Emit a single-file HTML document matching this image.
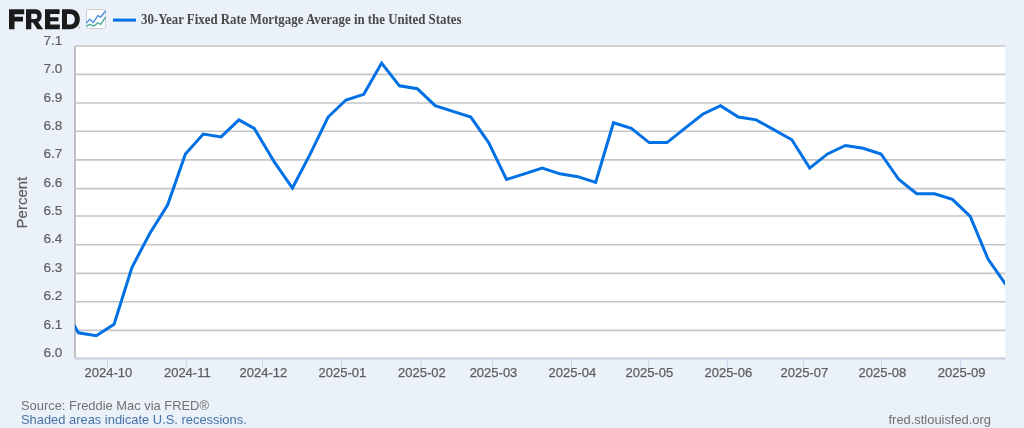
<!DOCTYPE html>
<html><head><meta charset="utf-8">
<style>
html,body{margin:0;padding:0;width:1024px;height:428px;overflow:hidden;background:#eaf1f9;}
svg{display:block;will-change:transform;}
text{font-family:"Liberation Sans",sans-serif;}
</style></head><body>
<svg width="1024" height="428" viewBox="0 0 1024 428">
<rect x="0" y="0" width="1024" height="428" fill="#eaf1f9"/>
<!-- logo -->
<g fill="#1b1b1b" fill-rule="evenodd">
<path d="M9,9.3 H24.2 V14.2 H14.5 V16.7 H23 V21.5 H14.5 V29.2 H9 Z"/>
<path d="M26,9.3 H35.3 C39.3,9.3 41.6,11.7 41.6,15.9 C41.6,18.9 40.3,21 38,22 L43.2,29.2 H37.3 L32.9,22.6 H31.3 V29.2 H26 Z M31.3,13.7 H35 C36.6,13.7 37.3,14.5 37.3,16.2 C37.3,17.9 36.6,18.9 35,18.9 H31.3 Z"/>
<path d="M45,9.3 H59.6 V13.9 H50.2 V17.2 H58.4 V21.2 H50.2 V24.6 H59.8 V29.2 H45 Z"/>
<path d="M62,9.3 H70.2 C76.2,9.3 79.8,13.3 79.8,19.25 C79.8,25.2 76.2,29.2 70.2,29.2 H62 Z M67,13.9 H69.8 C73,13.9 74.8,16 74.8,19.25 C74.8,22.5 73,24.6 69.8,24.6 H67 Z"/>
</g>
<circle cx="79.5" cy="27.8" r="0.8" fill="#999"/>
<rect x="86.5" y="9.5" width="19" height="19" rx="2" fill="#fefefe" stroke="#cfcfcf" stroke-width="1"/>
<polyline points="86.3,22.9 89.8,19.3 93.3,22.4 97.9,15.6 100.7,17 105.6,11" fill="none" stroke="#4a90e2" stroke-width="1.4"/>
<polyline points="86.3,26.4 89.8,24.3 93.7,26.1 97.9,22.9 100.7,24.3 105.6,17" fill="none" stroke="#4fae9a" stroke-width="1.4"/>
<line x1="113" y1="20.1" x2="136" y2="20.1" stroke="#0071e5" stroke-width="3"/>
<text x="141" y="23.7" style="font-family:'Liberation Serif',serif" font-size="14.3" font-weight="bold" fill="#4a4a4a" textLength="320.5" lengthAdjust="spacingAndGlyphs">30-Year Fixed Rate Mortgage Average in the United States</text>
<!-- plot -->
<rect x="75" y="46.4" width="930.3" height="311.3" fill="#fff"/>
<g stroke="#c6c6c6" stroke-width="1.6"><line x1="75" x2="1005.3" y1="46.07" y2="46.07"/><line x1="75" x2="1005.3" y1="74.38" y2="74.38"/><line x1="75" x2="1005.3" y1="103.00" y2="103.00"/><line x1="75" x2="1005.3" y1="131.20" y2="131.20"/><line x1="75" x2="1005.3" y1="159.90" y2="159.90"/><line x1="75" x2="1005.3" y1="188.65" y2="188.65"/><line x1="75" x2="1005.3" y1="216.00" y2="216.00"/><line x1="75" x2="1005.3" y1="244.72" y2="244.72"/><line x1="75" x2="1005.3" y1="273.37" y2="273.37"/><line x1="75" x2="1005.3" y1="301.80" y2="301.80"/><line x1="75" x2="1005.3" y1="330.37" y2="330.37"/><line x1="75" x2="1005.3" y1="358.40" y2="358.40"/></g>
<line x1="75" x2="75" y1="46" y2="358" stroke="#c0c0c0" stroke-width="2"/>
<line x1="75" x2="1005.3" y1="359" y2="359" stroke="#ccd6eb" stroke-width="1"/>
<g stroke="#ccd6eb" stroke-width="1"><line x1="107.50" x2="107.50" y1="358.5" y2="368"/><line x1="186.40" x2="186.40" y1="358.5" y2="368"/><line x1="262.50" x2="262.50" y1="358.5" y2="368"/><line x1="341.50" x2="341.50" y1="358.5" y2="368"/><line x1="421.00" x2="421.00" y1="358.5" y2="368"/><line x1="492.60" x2="492.60" y1="358.5" y2="368"/><line x1="571.50" x2="571.50" y1="358.5" y2="368"/><line x1="648.40" x2="648.40" y1="358.5" y2="368"/><line x1="727.40" x2="727.40" y1="358.5" y2="368"/><line x1="803.40" x2="803.40" y1="358.5" y2="368"/><line x1="881.50" x2="881.50" y1="358.5" y2="368"/><line x1="960.70" x2="960.70" y1="358.5" y2="368"/></g>
<clipPath id="c"><rect x="75" y="40" width="930" height="320"/></clipPath>
<path d="M60.57,301.58 L78.40,332.81 L96.24,335.65 L114.08,324.29 L131.91,267.51 L149.75,233.44 L167.58,205.05 L185.42,153.95 L203.26,134.08 L221.09,136.92 L238.93,119.88 L254.22,128.40 L274.60,162.47 L292.44,188.02 L310.27,153.95 L328.11,117.04 L345.94,100.01 L363.78,94.33 L381.62,63.10 L399.45,85.82 L417.29,88.65 L435.12,105.69 L452.96,111.37 L470.80,117.04 L488.63,142.60 L506.47,179.50 L524.30,173.82 L542.14,168.15 L559.98,173.82 L577.81,176.66 L595.65,182.34 L613.48,122.72 L631.32,128.40 L649.16,142.60 L666.99,142.60 L684.83,128.40 L702.66,114.21 L720.50,105.69 L738.34,117.04 L756.17,119.88 L771.46,128.40 L791.84,139.76 L809.68,168.15 L827.52,153.95 L845.35,145.43 L863.19,148.27 L881.02,153.95 L898.86,179.50 L916.70,193.70 L934.53,193.70 L952.37,199.38 L970.20,216.41 L988.04,259.00 L1005.88,284.55" fill="none" stroke="#0071e5" stroke-width="3" stroke-linejoin="miter" clip-path="url(#c)"/>
<g font-size="13.5" fill="#5e5e5e" stroke="#5e5e5e" stroke-width="0.2" text-anchor="end"><text x="62.2" y="44.57">7.1</text><text x="62.2" y="72.88">7.0</text><text x="62.2" y="101.50">6.9</text><text x="62.2" y="129.70">6.8</text><text x="62.2" y="158.40">6.7</text><text x="62.2" y="187.15">6.6</text><text x="62.2" y="214.50">6.5</text><text x="62.2" y="243.22">6.4</text><text x="62.2" y="271.87">6.3</text><text x="62.2" y="300.30">6.2</text><text x="62.2" y="328.87">6.1</text><text x="62.2" y="356.90">6.0</text></g>
<g font-size="13" fill="#5e5e5e" stroke="#5e5e5e" stroke-width="0.25" text-anchor="middle"><text x="108.40" y="377.1">2024-10</text><text x="187.30" y="377.1">2024-11</text><text x="263.40" y="377.1">2024-12</text><text x="342.40" y="377.1">2025-01</text><text x="421.90" y="377.1">2025-02</text><text x="493.50" y="377.1">2025-03</text><text x="572.40" y="377.1">2025-04</text><text x="649.30" y="377.1">2025-05</text><text x="728.30" y="377.1">2025-06</text><text x="804.30" y="377.1">2025-07</text><text x="882.40" y="377.1">2025-08</text><text x="961.60" y="377.1">2025-09</text></g>
<text transform="translate(26.5,202.6) rotate(-90)" font-size="15" fill="#5e5e5e" stroke="#5e5e5e" stroke-width="0.2" text-anchor="middle">Percent</text>
<text x="21" y="410.1" font-size="12.9" fill="#727272">Source: Freddie Mac via FRED®</text>
<text x="21" y="424" font-size="12.9" fill="#4572a7">Shaded areas indicate U.S. recessions.</text>
<text x="991" y="424" font-size="12.9" fill="#707070" text-anchor="end">fred.stlouisfed.org</text>
</svg>
</body></html>
